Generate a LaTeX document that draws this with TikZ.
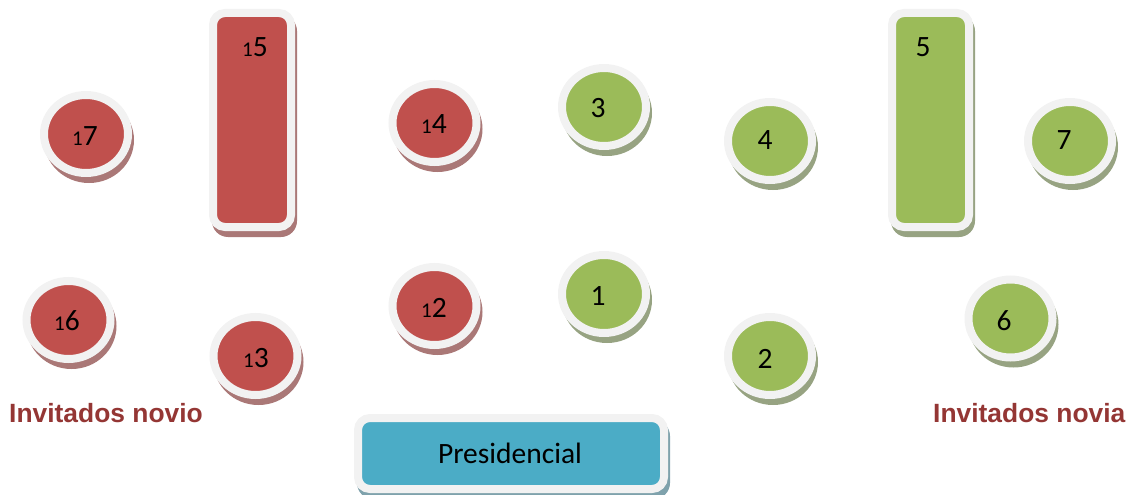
\documentclass[tikz,border=0pt]{standalone}
\usepackage{fontspec}
\setmainfont{Carlito}
\newfontfamily\arialfont{Liberation Sans}
\usetikzlibrary{shapes.geometric}
\definecolor{tred}{HTML}{C0504D}
\definecolor{tgreen}{HTML}{9BBB59}
\definecolor{tblue}{HTML}{4BACC6}
\definecolor{ring}{HTML}{F2F2F2}
\definecolor{shred}{HTML}{AA7877}
\definecolor{shgreen}{HTML}{97A382}
\definecolor{shblue}{HTML}{7FA2AC}
\definecolor{captionred}{HTML}{943634}
\tikzset{
 roundtab/.style={ellipse, draw=ring, line width=8pt, minimum width=84pt, minimum height=78pt, inner sep=0pt, outer sep=0pt},
 longtab/.style={rectangle, rounded corners=12pt, draw=ring, line width=8pt, inner sep=0pt, outer sep=0pt},
 num/.style={font=\fontsize{29.5}{30}\selectfont, inner sep=0pt},
 caption/.style={font=\arialfont\bfseries\fontsize{26.4}{28}\selectfont, text=captionred, inner sep=0pt, anchor=base west},
}
\newcommand\sone{{\fontsize{21}{20}\selectfont 1}}
\newcommand\rtable[4]{%
  \fill[sh#4] (#2+3,#3+6) ellipse [x radius=45pt, y radius=43pt];
  \node[roundtab, fill=t#4] (#1) at (#2,#3) {};
}
\begin{document}
\begin{tikzpicture}[x=1pt,y=-1pt]
\useasboundingbox (0,0) rectangle (1130,495);
% long tables
\fill[shred, rounded corners=16pt] (212,15) rectangle (297,237);
\node[longtab, fill=tred, minimum width=78pt, minimum height=214pt] (t15) at (252,120) {};
\fill[shgreen, rounded corners=16pt] (891,15) rectangle (975,237);
\node[longtab, fill=tgreen, minimum width=77pt, minimum height=214pt] (t5) at (930.5,120) {};
\fill[shblue, rounded corners=16pt] (357,420) rectangle (670,499);
\node[longtab, fill=tblue, minimum width=306pt, minimum height=71pt] (tpres) at (511,453.5) {};
% round tables
\rtable{t17}{86}{134}{red}
\rtable{t16}{68.5}{320}{red}
\rtable{t13}{255.5}{356}{red}
\rtable{t14}{434.5}{123}{red}
\rtable{t12}{434.5}{306}{red}
\rtable{t3}{604}{107}{green}
\rtable{t1}{604}{294}{green}
\rtable{t2}{770}{356}{green}
\rtable{t4}{770}{141}{green}
\rtable{t7}{1070}{141}{green}
\rtable{t6}{1010.5}{318.5}{green}
% labels
\node[num] (l17) at (85,136) {\sone7};
\node[num] (l15) at (255,47) {\sone5};
\node[num] (l16) at (67,321) {\sone6};
\node[num] (l13) at (256,358) {\sone3};
\node[num] (l14) at (434,124) {\sone4};
\node[num] (l12) at (434,308) {\sone2};
\node[num] (l3) at (598,108) {3};
\node[num] (l1) at (598,296) {1};
\node[num] (l2) at (765,359) {2};
\node[num] (l4) at (765,140) {4};
\node[num] (l5) at (923,47) {5};
\node[num] (l7) at (1064,140) {7};
\node[num] (l6) at (1004,321) {6};
\node[num] (lpres) at (510,453) {Presidencial};
\node[caption] (novio) at (9,422) {Invitados novio};
\node[caption] (novia) at (933,422) {Invitados novia};
\end{tikzpicture}
\end{document}
